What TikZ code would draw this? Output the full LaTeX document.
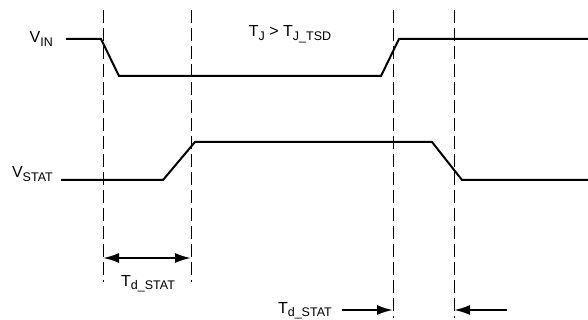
\documentclass[tikz,border=0pt]{standalone}
\usepackage{fontspec}
\setmainfont{Liberation Sans}
\usetikzlibrary{arrows.meta}

\newcommand{\sbs}[1]{\raisebox{-3.5pt}{\fontsize{12.5}{14}\selectfont #1}}

\tikzset{
    signal/.style={line width=2pt, line join=miter},
    guide/.style={line width=1pt, dash pattern=on 13pt off 5pt},
    span/.style={line width=2pt, -{Latex[length=16pt,width=10pt]}},
    lbl/.style={font=\fontsize{16}{18}\selectfont, inner sep=0pt}
}

\begin{document}
\begin{tikzpicture}[x=1pt,y=-1pt]
        \useasboundingbox (0,0) rectangle (588,320);

        % Linee tratteggiate verticali
        \draw[guide] (103,10) -- (103,282);
        \draw[guide] (191,10) -- (191,282);
        \draw[guide] (393,10) -- (393,318);
        \draw[guide] (454,10) -- (454,318);

        % Segnale V_IN
        \draw[signal] (66,39) -- (101,39) -- (119,76) -- (381,76) -- (399,39) -- (588,39);
        \node[lbl, anchor=base east] (vin) at (53,43) {V\sbs{IN}};

        % Segnale V_STAT
        \draw[signal] (61,180) -- (163,180) -- (195,142) -- (432,142) -- (462,180) -- (588,180);
        \node[lbl, anchor=base east] (vstat) at (53,178) {V\sbs{STAT}};

        % Condizione
        \node[lbl, anchor=base] (cond) at (290,37) {T\sbs{J} > T\sbs{J\_TSD}};

        % Ritardo all'accensione
        \coordinate (a1) at (103,258);
        \coordinate (a2) at (191,258);
        \draw[span, {Latex[length=16pt,width=10pt]}-{Latex[length=16pt,width=10pt]}] (a1) -- (a2);
        \node[lbl, anchor=base] (tdon) at (148,286) {T\sbs{d\_STAT}};

        % Ritardo allo spegnimento
        \coordinate (b1) at (393,310);
        \coordinate (b2) at (454,310);
        \coordinate (b3) at (507,310);
        \node[lbl, anchor=base east] (tdoff) at (332,313) {T\sbs{d\_STAT}};
        \draw[span] (tdoff.east |- b1) ++(10,0) -- (b1);
        \draw[span] (b3) -- (b2);

    \end{tikzpicture}
\end{document}
